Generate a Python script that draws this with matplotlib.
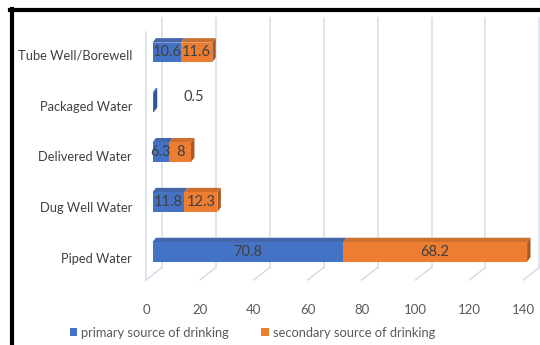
import matplotlib
matplotlib.use("Agg")
import matplotlib.pyplot as plt
from matplotlib.patches import Polygon, Patch

# Drinking-water sources (bottom to top)
categories = ["Piped Water", "Dug Well Water", "Delivered Water", "Packaged Water", "Tube Well/Borewell"]
primary = [70.8, 11.8, 6.3, 0.5, 10.6]
secondary = [68.2, 12.3, 8.0, 0.0, 11.6]
series_names = ["primary source of drinking", "secondary source of drinking"]
xticks = [0, 20, 40, 60, 80, 100, 120, 140]

plt.rcParams["font.family"] = ["Lato", "DejaVu Sans"]

W, H = 540, 345
fig = plt.figure(figsize=(W / 100, H / 100), dpi=100)
fig.patch.set_facecolor("white")

# front plane of the 3-D box: x=0 at 146px, y-floor at 280px
px_per_x = 2.695
px_per_y = 49.9
left_px, floor_px, top_px = 146, 280, 12
ax = fig.add_axes([left_px / W, (H - floor_px) / H, (W - left_px) / W, (floor_px - top_px) / H])
x_max = (W - left_px) / px_per_x
y_floor = -(floor_px - 252) / px_per_y
y_top = (252 - top_px) / px_per_y
ax.set_xlim(0, x_max)
ax.set_ylim(y_floor, y_top)
for s in ax.spines.values():
    s.set_visible(False)
ax.set_facecolor("none")

# depth offsets (data units)
wall_dx, wall_dy = 16 / px_per_x, 12.5 / px_per_y
bar_x0 = 6.5 / px_per_x
bar_dx, bar_dy = 3.4 / px_per_x, 4.5 / px_per_y
bar_h = 19.5 / px_per_y

grid_c = "#d6dde8"
back_floor = y_floor + wall_dy
back_top = (252 - 18) / px_per_y
side_top = (252 - 32) / px_per_y

# side wall front edge
ax.plot([0, 0], [y_floor, side_top], color=grid_c, lw=1.1, zorder=1, clip_on=False)
# back wall gridlines and floor lines
for v in xticks:
    ax.plot([v + wall_dx, v + wall_dx], [back_floor, back_top], color=grid_c, lw=1.1, zorder=1, clip_on=False)
    ax.plot([v, v + wall_dx], [y_floor, back_floor], color=grid_c, lw=1.1, zorder=1, clip_on=False)

colors = {
    "front": ["#4472C4", "#ED7D31"],
    "top": ["#4466ab", "#cf6f2e"],
    "side": ["#2f5597", "#ad5620"],
}


def draw_box(x0, w, yc, k, with_side):
    yb, yt = yc - bar_h / 2, yc + bar_h / 2
    x1 = x0 + w
    ax.add_patch(Polygon([(x0, yt), (x1, yt), (x1 + bar_dx, yt + bar_dy), (x0 + bar_dx, yt + bar_dy)],
                         closed=True, facecolor=colors["top"][k], edgecolor="none", zorder=3))
    ax.add_patch(Polygon([(x0, yb), (x1, yb), (x1, yt), (x0, yt)],
                         closed=True, facecolor=colors["front"][k], edgecolor="none", zorder=4))
    if with_side:
        ax.add_patch(Polygon([(x1, yb), (x1, yt), (x1 + bar_dx, yt + bar_dy), (x1 + bar_dx, yb + bar_dy)],
                             closed=True, facecolor=colors["side"][k], edgecolor="none", zorder=4))


label_c = "#404040"
for i, (p, s) in enumerate(zip(primary, secondary)):
    draw_box(bar_x0, p, i, 0, s == 0)
    if s > 0:
        draw_box(bar_x0 + p, s, i, 1, True)
        ax.text(bar_x0 + p / 2, i, f"{p:g}", ha="center", va="center", fontsize=10.5, color=label_c, zorder=5)
        ax.text(bar_x0 + p + s / 2, i, f"{s:g}", ha="center", va="center", fontsize=10.5, color=label_c, zorder=5)
    else:
        ax.text(bar_x0 + p + 15, i + 0.1, f"{p:g}", ha="center", va="center", fontsize=10.5, color=label_c, zorder=5)

# axis labels
ax.set_xticks(xticks)
ax.set_xticklabels([str(v) for v in xticks])
ax.tick_params(axis="x", length=0, pad=17.5, labelsize=9.5, labelcolor="#595959")
label_pos = [-0.12 + 1.018 * i for i in range(len(categories))]
ax.set_yticks(label_pos)
ax.set_yticklabels(categories)
ax.tick_params(axis="y", length=0, pad=10, labelsize=9.3, labelcolor="#404040")

handles = [Patch(facecolor=colors["front"][0], edgecolor="none"),
           Patch(facecolor=colors["front"][1], edgecolor="none")]
fig.legend(handles, series_names, loc="center", bbox_to_anchor=(0.4676, 0.036), ncol=2, frameon=False,
           fontsize=9.3, labelcolor="#595959", handlelength=0.6, handleheight=0.6,
           handletextpad=0.3, columnspacing=2.5)

# outer black frame (top and left)
fig.add_artist(plt.Line2D([10 / W, 1], [1 - 10 / H, 1 - 10 / H], color="black", lw=3, transform=fig.transFigure))
fig.add_artist(plt.Line2D([12 / W, 12 / W], [0, 1 - 8.5 / H], color="black", lw=3, transform=fig.transFigure))

fig.savefig("out.png", dpi=100)
